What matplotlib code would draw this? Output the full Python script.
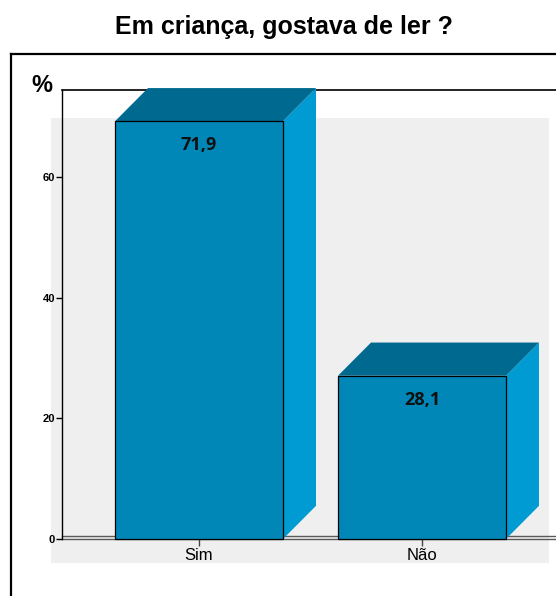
import matplotlib
matplotlib.use("Agg")
import matplotlib.pyplot as plt
from matplotlib.patches import Polygon, Rectangle
from matplotlib.lines import Line2D

categories = ["Sim", "Não"]
values = [71.9, 28.1]
value_labels = ["71,9", "28,1"]
yticks = [0, 20, 40, 60]
title = "Em criança, gostava de ler ?"

W, H = 556, 596
fig = plt.figure(figsize=(W / 100, H / 100), dpi=100)

# axes geometry (pixels)
ax_l, ax_r, ax_b, ax_t = 62, 556, 539, 90
px_per_unit = 362 / 60.0
ax = fig.add_axes([ax_l / W, (H - ax_b) / H, (ax_r - ax_l) / W, (ax_b - ax_t) / H])
ax.set_ylim(0, (ax_b - ax_t) / px_per_unit)
spacing = 223.0
c0 = 199.0
ax.set_xlim((ax_l - c0) / spacing, (ax_r - c0) / spacing)

# style constants
bar_w = 168 / spacing
dx = 33 / spacing
dy = 5.5
persp = 0.963
front_c = "#0087B7"
top_c = "#00698F"
side_c = "#009BD3"

# back wall
ax.add_patch(Rectangle(((51 - c0) / spacing, -3.98), (549 - 51) / spacing, 69.78 + 3.98,
                       facecolor="#EFEFEF", edgecolor="none", zorder=0.5, clip_on=False))

# floor lines
for yy in (0, 0.5):
    ax.plot([(ax_l - c0) / spacing, (ax_r - c0) / spacing], [yy, yy], color="#5a5a5a",
            lw=1.0, zorder=1, clip_on=False)

for i, (cat, v, lab) in enumerate(zip(categories, values, value_labels)):
    h = v * persp
    x0, x1 = i - bar_w / 2, i + bar_w / 2
    side = Polygon([(x1, 0), (x1, h), (x1 + dx, h + dy), (x1 + dx, dy)], closed=True,
                   facecolor=side_c, edgecolor="none", zorder=3, clip_on=False)
    top = Polygon([(x0, h), (x1, h), (x1 + dx, h + dy), (x0 + dx, h + dy)], closed=True,
                  facecolor=top_c, edgecolor="none", zorder=3, clip_on=False)
    front = Rectangle((x0, 0), bar_w, h, facecolor=front_c, edgecolor="black", lw=0.9,
                      zorder=4, clip_on=False)
    ax.add_patch(side)
    ax.add_patch(top)
    ax.add_patch(front)
    ax.annotate(lab, xy=(i, h), xytext=(0, -24), textcoords="offset pixels",
                ha="center", va="center", fontsize=13, fontweight="bold",
                family="Open Sans", color="#111111", zorder=5)

# spines
for s in ("right", "bottom"):
    ax.spines[s].set_visible(False)
ax.spines["left"].set_linewidth(1.0)
ax.spines["top"].set_linewidth(1.2)
ax.spines["left"].set_zorder(2)
ax.spines["top"].set_zorder(2)
ax.set_facecolor("white")

ax.set_yticks(yticks)
ax.set_yticklabels([str(t) for t in yticks], fontsize=8, fontweight="bold",
                   family="Liberation Sans")
ax.tick_params(axis="y", length=4, width=1, pad=1, direction="out")
ax.set_xticks(range(len(categories)))
ax.set_xticklabels(categories, fontsize=12, family="Liberation Sans")
ax.tick_params(axis="x", length=5, width=1, pad=1.5, color="#444444", direction="out")

# outer frame
fig.add_artist(Line2D([11 / W, 11 / W], [0, (H - 54) / H], transform=fig.transFigure,
                      color="black", lw=1.6))
fig.add_artist(Line2D([11 / W, 1], [(H - 54) / H, (H - 54) / H], transform=fig.transFigure,
                      color="black", lw=1.6))

fig.text(284 / W, (H - 27) / H, title, ha="center", va="center", fontsize=18,
         fontweight="bold", family="Liberation Sans")
fig.text(42 / W, (H - 85) / H, "%", ha="center", va="center", fontsize=17,
         fontweight="bold", family="Liberation Sans")

fig.savefig("out.png", dpi=100)
